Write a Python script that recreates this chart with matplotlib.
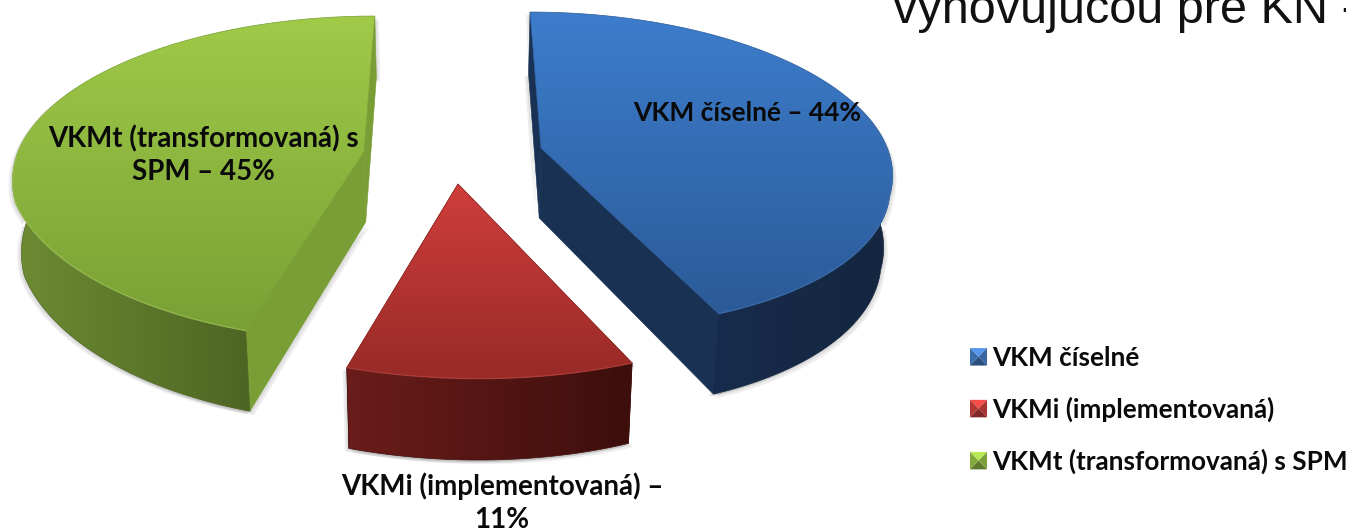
import numpy as np
import matplotlib
matplotlib.use("Agg")
import matplotlib.pyplot as plt
from matplotlib.colors import LinearSegmentedColormap as LSC
from matplotlib.legend_handler import HandlerBase
from matplotlib.patches import Patch, Polygon

# ---- data ----
names = ["VKM číselné", "VKMi (implementovaná)", "VKMt (transformovaná) s SPM"]
shares = [44, 11, 45]
chart_labels = ["VKM číselné – {}%", "VKMi (implementovaná) –\n{}%", "VKMt (transformovaná) s\nSPM – {}%"]
heading = "vyhovujúcou pre KN -"

# ---- layout and style ----
W, H = 1346, 531
APEX = [(541, 148), (458, 184), (364, 152)]
YSCALE = [1.0, 1.08, 1.05]
XSCALE = [1.0, 1.06, 1.0]
LABEL_POS = [(747, 113), (502, 503), (203, 155)]
LABEL_FS = [19.0, 20.0, 19.9]
X0, A_R, B_R, K, SKEW, DEPTH, SQUEEZE = 452, 346, 155, 0.14, 20, 70, 0.98
TOP = [("#3d7dcc", "#2b5a98"), ("#cf3e3b", "#982a27"), ("#a0ca48", "#78a035")]
ARC = [("#172c4c", "#14263f"), ("#6a1d1a", "#3d0e0c"), ("#6d8c33", "#4d6523")]
CUT = ["#193254", "#5c1a18", "#7a9e36"]
RIM = ["#4a7cbd", "#c2504b", "#b0d068"]
FONT = "Lato"
FS = 18.85

fig = plt.figure(figsize=(W / 100, H / 100), dpi=100)
ax = fig.add_axes([0, 0, 1, 1])
ax.set_xlim(0, W)
ax.set_ylim(H, 0)
ax.axis("off")


def rim(theta_deg, apex, xs, ys):
    t = np.radians(np.atleast_1d(theta_deg))
    c = np.cos(t)
    s = 1 / (1 + K * c)
    x = apex[0] + A_R * xs * np.sin(t) * s + (apex[0] - X0) * (s - 1) + SKEW * np.clip(-c - 0.3, 0, None) / 0.7
    y = apex[1] - B_R * np.where(c < 0, ys, 1.0) * c * s
    return x, y, s


def lower(x, y, s):
    return X0 + (x - X0) * SQUEEZE, y + DEPTH * s


def fill_gradient(xy, colors, vertical, z):
    xy = np.asarray(xy)
    patch = Polygon(xy, closed=True, fc="none", ec="none", zorder=z)
    ax.add_patch(patch)
    n = 256
    g = np.linspace(0, 1, n)
    g = g[:, None] if vertical else g[None, :]
    x0, x1, y0, y1 = xy[:, 0].min(), xy[:, 0].max(), xy[:, 1].min(), xy[:, 1].max()
    im = ax.imshow(g, extent=[x0, x1, y1, y0], cmap=LSC.from_list("g", colors), aspect="auto", zorder=z,
                   interpolation="bilinear", origin="upper")
    im.set_clip_path(patch)
    # a thin edge smooths the clipped outline
    ax.add_patch(Polygon(xy, closed=True, fc="none", ec=colors[len(colors) // 2], lw=0.5, zorder=z))


edges = np.cumsum([0] + shares) * 3.6
for i in range(len(shares)):
    th = np.linspace(edges[i], edges[i + 1], 160)
    A = APEX[i]
    x, y, s = rim(th, A, XSCALE[i], YSCALE[i])
    xb, yb = lower(x, y, s)
    axb, ayb = lower(np.array([A[0]]), np.array([A[1]]), np.array([1.0]))
    z = 2 + i * 0.1
    # soft shadow
    outline = np.vstack([np.c_[x, y], np.c_[xb, yb][::-1], [[axb[0], ayb[0]]]])
    for dx, dy in [(-4, 3), (4, 4), (2, 2), (-2, 2)]:
        ax.add_patch(Polygon(outline + [dx, dy], closed=True, fc="#555555", ec="none", alpha=0.10, zorder=1))
    # cut faces
    for j in (0, -1):
        ax.add_patch(Polygon([(A[0], A[1]), (x[j], y[j]), (xb[j], yb[j]), (axb[0], ayb[0])], closed=True,
                             fc=CUT[i], ec=CUT[i], lw=0.4, zorder=z))
    # outer wall: only the part that faces the viewer
    vis = np.cos(np.radians(th)) < 0.3
    wall = np.vstack([np.c_[x[vis], y[vis]], np.c_[xb[vis], yb[vis]][::-1]])
    fill_gradient(wall, ARC[i], False, z + 0.01)
    # top face
    top = np.vstack([[A], np.c_[x, y]])
    fill_gradient(top, TOP[i], True, z + 0.02)
    ax.plot(x[vis], y[vis], color=RIM[i], lw=1.0, alpha=0.5, zorder=z + 0.03)

for i, tpl in enumerate(chart_labels):
    ax.text(*LABEL_POS[i], tpl.format(shares[i]), ha="center", va="center", fontsize=LABEL_FS[i], fontweight="bold",
            family=FONT, color="#0a0a0a", zorder=5, linespacing=1.32)

ax.text(893, 23, heading, ha="left", va="baseline", fontsize=35, family="Liberation Sans", color="#111111",
        zorder=5, clip_on=False)


class Bevel(HandlerBase):
    def create_artists(self, legend, orig, xd, yd, w, h, fs, trans):
        base = np.array(matplotlib.colors.to_rgb(orig.get_facecolor()))
        x0, y0, x1, y1 = -xd, -yd, -xd + w, -yd + h
        cx, cy = (x0 + x1) / 2, (y0 + y1) / 2
        tris = [([(x0, y1), (x1, y1), (cx, cy)], 1.25), ([(x0, y0), (x1, y0), (cx, cy)], 0.65),
                ([(x0, y0), (x0, y1), (cx, cy)], 0.9), ([(x1, y0), (x1, y1), (cx, cy)], 0.85)]
        return [Polygon(p, closed=True, fc=np.clip(base * k, 0, 1), ec="none", transform=trans) for p, k in tris]


handles = [Patch(facecolor=c) for c in ("#4478bf", "#c43d3a", "#93bc45")]
leg = ax.legend(handles, names, handler_map={Patch: Bevel()}, loc="upper left",
                bbox_to_anchor=(970 / W, 1 - 346 / H), bbox_transform=fig.transFigure,
                frameon=False, borderpad=0, borderaxespad=0, handlelength=0.65, handleheight=0.65,
                handletextpad=0.2, labelspacing=1.02,
                prop={"family": FONT, "weight": "bold", "size": FS})
leg.set_zorder(6)
for t in leg.get_texts():
    t.set_color("#0a0a0a")

fig.savefig("out.png", dpi=100, facecolor="white")
